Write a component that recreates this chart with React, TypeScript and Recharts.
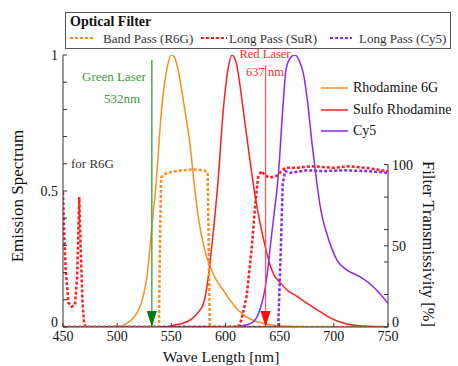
import { LineChart, Line, XAxis, YAxis, ReferenceLine, ReferenceDot } from 'recharts';

const FONT = '"Liberation Serif", Tinos, "Times New Roman", "DejaVu Serif", "Noto Serif", serif';

const ORANGE = '#ff8c1e';
const RED = '#ff1e1e';
const PURPLE = '#8b28f0';

// Emission spectra (normalized, left axis)
const r6gNm = [450, 500, 505, 509, 513, 518, 522, 525, 528, 532, 536, 541, 546, 550, 553, 556, 560, 564, 567, 571, 575, 581, 586, 592, 598, 604, 611, 619, 627, 635, 645, 660, 680, 750];
const r6gEm = [0, 0, 0.005, 0.014, 0.025, 0.05, 0.085, 0.13, 0.2, 0.37, 0.53, 0.8, 0.95, 1.0, 0.99, 0.95, 0.86, 0.76, 0.68, 0.53, 0.4, 0.28, 0.22, 0.17, 0.135, 0.1, 0.065, 0.038, 0.022, 0.013, 0.006, 0.002, 0, 0];

const srNm = [450, 545, 553, 560, 569, 576, 580, 584, 589, 593, 598, 602, 606, 610, 616, 622, 627, 632, 637, 641, 645, 650, 657, 666, 675, 684, 693, 703, 713, 724, 740, 750];
const srEm = [0, 0, 0.007, 0.013, 0.03, 0.06, 0.09, 0.18, 0.36, 0.53, 0.8, 0.94, 1.0, 0.97, 0.81, 0.63, 0.49, 0.38, 0.29, 0.23, 0.19, 0.165, 0.135, 0.113, 0.088, 0.065, 0.042, 0.022, 0.01, 0.005, 0.001, 0];

const cy5Nm = [450, 604, 612, 620, 626, 630, 633, 636, 639, 642, 645, 649, 653, 656, 660, 664, 668, 672, 676, 680, 684, 688, 693, 698, 703, 712, 724, 733, 742, 750];
const cy5Em = [0, 0, 0.003, 0.008, 0.02, 0.045, 0.08, 0.13, 0.21, 0.32, 0.42, 0.57, 0.81, 0.95, 0.99, 1.0, 0.98, 0.93, 0.82, 0.67, 0.54, 0.43, 0.35, 0.29, 0.245, 0.21, 0.185, 0.16, 0.125, 0.087];

// Filter transmissivity [%] (right axis)
const bpNm = [450, 538.5, 539.5, 540.5, 543, 550, 560, 570, 580, 583.5, 584.5, 585.5, 750];
const bpT = [0, 0, 50, 92, 94, 95.5, 96.5, 97, 96.5, 95, 50, 0, 0];

const lpSuRNm = [450, 451, 452.5, 455, 458, 461, 463, 464, 465, 466.5, 468, 469.5, 471, 608, 613, 616, 619.5, 624, 627, 630, 633, 637, 641, 647, 655, 665, 680, 700, 715, 730, 740, 748, 750];
const lpSuRT = [83, 60, 35, 15, 12.5, 13.5, 30, 55, 80, 45, 15, 2, 0, 0, 1, 8, 19, 47, 72, 92, 96, 93, 92, 93, 98, 98, 99, 98, 99, 98, 97, 96, 96];

const lpCy5Nm = [450, 647, 648.7, 651, 652.8, 655, 660, 665, 675, 690, 710, 730, 750];
const lpCy5T = [0, 0, 1, 47, 88, 96, 95, 95.5, 96.5, 96, 96.5, 96, 95];

const xTicks = [450, 500, 550, 600, 650, 700, 750];
const leftTicks = [0, 0.1, 0.2, 0.3, 0.4, 0.5, 0.6, 0.7, 0.8, 0.9, 1];
const leftLabels = ['0', '', '', '', '', '0.5', '', '', '', '', '1'];
const rightTicks = [0, 20, 40, 50, 60, 80, 100];
const rightLabels = ['0', '', '', '50', '', '', '100'];
const RIGHT_MAX = 167.5;

const toPts = (xs: number[], ys: number[]) => xs.map((x, i) => ({ x, y: ys[i] }));

function BottomTick(props: any) {
  const { x, y, payload } = props;
  return (
    <g>
      <line x1={x} x2={x} y1={y} y2={y - 4} stroke="#333" />
      <text x={x} y={y + 14} textAnchor="middle" fontSize={14} fill="#111" fontFamily={FONT}>{payload.value}</text>
    </g>
  );
}

function LeftTick(props: any) {
  const { x, y, index } = props;
  const label = leftLabels[index] ?? '';
  const dy = index === 0 ? 0 : 4.5;
  return (
    <g>
      <line x1={x} x2={x + 4} y1={y} y2={y} stroke="#333" />
      {label && <text x={x - 5} y={y + dy} textAnchor="end" fontSize={14} fill="#111" fontFamily={FONT}>{label}</text>}
    </g>
  );
}

function RightTick(props: any) {
  const { x, y, index } = props;
  const label = rightLabels[index] ?? '';
  const dy = index === 0 ? 0 : 5;
  return (
    <g>
      <line x1={x} x2={x - 4} y1={y} y2={y} stroke="#333" />
      {label && <text x={x + 4} y={y + dy} textAnchor="start" fontSize={14} fill="#111" fontFamily={FONT}>{label}</text>}
    </g>
  );
}

const arrow = (color: string) => (p: any) => (
  <polygon points={`${p.cx - 5},${p.cy - 16} ${p.cx + 5},${p.cy - 16} ${p.cx},${p.cy}`} fill={color} />
);

function Txt({ x, y, size = 13, color = '#222', anchor = 'start', rotate = 0, bold = false, children }: any) {
  const tx = anchor === 'middle' ? '-50%' : anchor === 'end' ? '-100%' : '0';
  return (
    <div style={{
      position: 'absolute', left: x, top: y, whiteSpace: 'nowrap', lineHeight: 1,
      fontFamily: FONT, fontSize: size, color, fontWeight: bold ? 'bold' : 'normal',
      transform: `translate(${tx}, -50%) rotate(${rotate}deg)`,
    }}>{children}</div>
  );
}

function Sample({ x, y, w, color, dotted }: any) {
  return (
    <svg style={{ position: 'absolute', left: x, top: y - 2 }} width={w} height={4}>
      <line x1={0} y1={2} x2={w} y2={2} stroke={color} strokeWidth={dotted ? 2 : 1.5} strokeDasharray={dotted ? '3 2' : undefined} />
    </svg>
  );
}

export default function App() {
  return (
    <div style={{ position: 'absolute', left: 0, top: 0, width: 458, height: 366, background: '#fff' }}>
      <LineChart width={458} height={366} margin={{ top: 55, right: 0, bottom: 0, left: 0 }}>
        <XAxis
          dataKey="x" type="number" domain={[450, 750]} ticks={xTicks} interval={0}
          tickSize={0} tickMargin={0} tickLine={false} tick={BottomTick}
          axisLine={{ stroke: '#333' }} height={39} allowDataOverflow
        />
        <YAxis
          yAxisId="left" domain={[0, 1]} ticks={leftTicks} interval={0} width={63}
          tickSize={0} tickMargin={0} tickLine={false} tick={LeftTick}
          axisLine={{ stroke: '#333' }} allowDataOverflow
        />
        <YAxis
          yAxisId="right" orientation="right" domain={[0, RIGHT_MAX]} ticks={rightTicks} interval={0} width={70}
          tickSize={0} tickMargin={0} tickLine={false} tick={RightTick}
          axisLine={false} allowDataOverflow
        />
        <ReferenceLine yAxisId="right" segment={[{ x: 750, y: 0 }, { x: 750, y: 100 }]} stroke="#333" />

        <Line yAxisId="left" data={toPts(r6gNm, r6gEm)} dataKey="y" type="monotone" stroke={ORANGE} strokeWidth={1.5} dot={false} activeDot={false} isAnimationActive={false} />
        <Line yAxisId="left" data={toPts(srNm, srEm)} dataKey="y" type="monotone" stroke={RED} strokeWidth={1.5} dot={false} activeDot={false} isAnimationActive={false} />
        <Line yAxisId="left" data={toPts(cy5Nm, cy5Em)} dataKey="y" type="monotone" stroke={PURPLE} strokeWidth={1.5} dot={false} activeDot={false} isAnimationActive={false} />
        <Line yAxisId="right" data={toPts(lpCy5Nm, lpCy5T)} dataKey="y" type="linear" stroke={PURPLE} strokeWidth={2.5} strokeDasharray="3 2" dot={false} activeDot={false} isAnimationActive={false} />
        <Line yAxisId="right" data={toPts(lpSuRNm, lpSuRT)} dataKey="y" type="linear" stroke={RED} strokeWidth={2.5} strokeDasharray="3 2" dot={false} activeDot={false} isAnimationActive={false} />
        <Line yAxisId="right" data={toPts(bpNm, bpT)} dataKey="y" type="linear" stroke={ORANGE} strokeWidth={2.5} strokeDasharray="3 2" dot={false} activeDot={false} isAnimationActive={false} />

        <ReferenceLine yAxisId="left" segment={[{ x: 532, y: 0 }, { x: 532, y: 0.982 }]} stroke="#4caa4c" strokeWidth={1.5} />
        <ReferenceLine yAxisId="left" segment={[{ x: 637, y: 0 }, { x: 637, y: 0.963 }]} stroke="#ff5050" strokeWidth={1.2} />
        <ReferenceDot yAxisId="left" x={532} y={0} r={5} shape={arrow('#0a7a0a')} />
        <ReferenceDot yAxisId="left" x={637} y={0} r={5} shape={arrow('#ff0a0a')} />
      </LineChart>

      {/* axis titles */}
      <Txt x={17} y={196} size={17} color="#111" anchor="middle" rotate={-90}>Emission Spectrum</Txt>
      <Txt x={428} y={244} size={16.5} color="#111" anchor="middle" rotate={90}>Filter Transmissivity [%]</Txt>
      <Txt x={221} y={357} size={15.5} color="#111" anchor="middle">Wave Length [nm]</Txt>

      {/* annotations */}
      <Txt x={114} y={76} size={13} color="#3c9a3c" anchor="middle">Green Laser</Txt>
      <Txt x={122} y={98} size={13} color="#3c9a3c" anchor="middle">532nm</Txt>
      <Txt x={265} y={54} size={12.5} color="#ff2a2a" anchor="middle">Red Laser</Txt>
      <Txt x={265} y={72} size={12.5} color="#ff2a2a" anchor="middle">637 nm</Txt>
      <Txt x={71} y={163} size={13} color="#333">for R6G</Txt>

      {/* optical filter legend */}
      <div style={{ position: 'absolute', left: 65, top: 12, width: 386, height: 37, border: '1px solid #555', boxSizing: 'border-box' }} />
      <Txt x={70} y={22} size={14} color="#111" bold>Optical Filter</Txt>
      <Sample x={70} y={38} w={25} color={ORANGE} dotted />
      <Txt x={103} y={38} size={13} color="#333">Band Pass (R6G)</Txt>
      <Sample x={201} y={38} w={26} color={RED} dotted />
      <Txt x={229} y={38} size={13} color="#333">Long Pass (SuR)</Txt>
      <Sample x={330} y={38} w={22} color={PURPLE} dotted />
      <Txt x={359} y={38} size={13} color="#333">Long Pass (Cy5)</Txt>

      {/* emission legend */}
      <Sample x={321} y={88} w={27} color={ORANGE} />
      <Txt x={353} y={88} size={14} color="#111">Rhodamine 6G</Txt>
      <Sample x={321} y={110} w={27} color={RED} />
      <Txt x={353} y={110} size={14} color="#111">Sulfo Rhodamine</Txt>
      <Sample x={321} y={131} w={27} color={PURPLE} />
      <Txt x={353} y={131} size={14} color="#111">Cy5</Txt>
    </div>
  );
}
